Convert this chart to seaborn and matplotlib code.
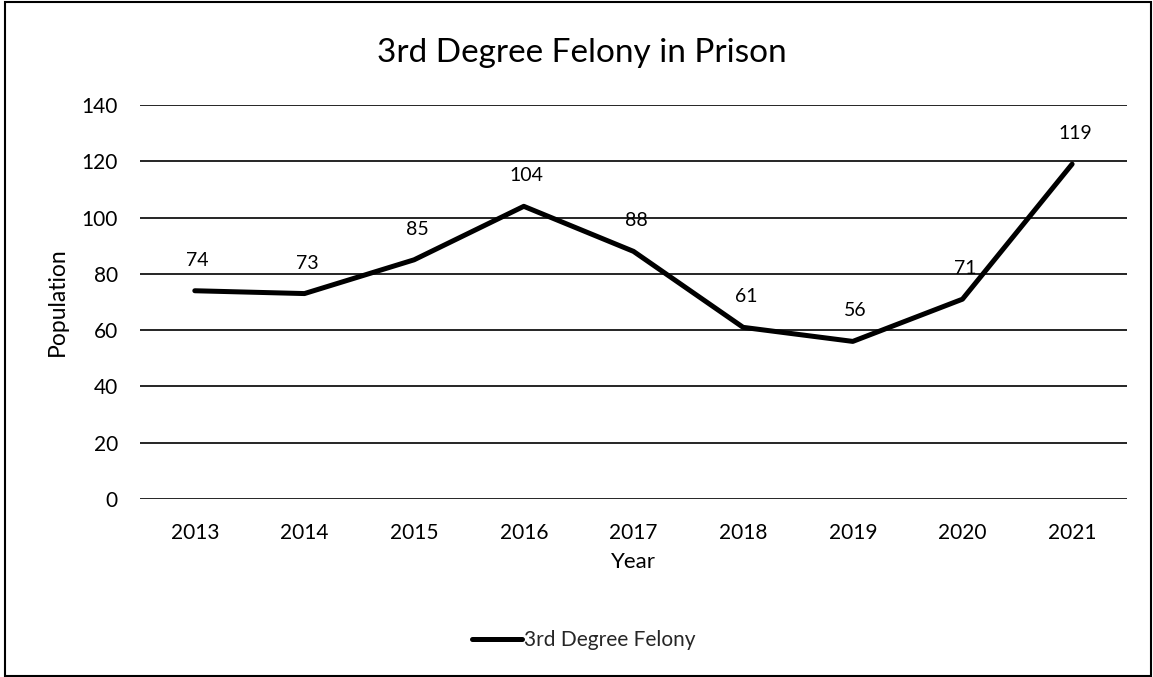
import matplotlib
matplotlib.use("Agg")
import matplotlib.pyplot as plt
from matplotlib.patches import Rectangle
import seaborn as sns
import pandas as pd

years = ["2013", "2014", "2015", "2016", "2017", "2018", "2019", "2020", "2021"]
population = [74, 73, 85, 104, 88, 61, 56, 71, 119]
series_name = "3rd Degree Felony"

df = pd.DataFrame({"Year": years, "Population": population})
df["pos"] = range(len(years))

sns.set_theme(style="white")
plt.rcParams["font.family"] = ["Lato", "DejaVu Sans"]

fig = plt.figure(figsize=(11.53, 6.77), dpi=100)
ax = fig.add_axes([0.1214, 0.2629, 0.856, 0.582])

sns.lineplot(data=df, x="pos", y="Population", color="black", linewidth=3.6,
             label=series_name, ax=ax, solid_capstyle="round")

# data labels above each point
for x, y in zip(df["pos"], df["Population"]):
    ax.annotate(str(y), (x, y), xytext=(2, 22), textcoords="offset points",
                ha="center", va="center", fontsize=14, color="black")

ax.set_xlim(-0.5, len(years) - 0.5)
ax.set_ylim(0, 140)
ax.set_yticks(range(0, 141, 20))
ax.set_xticks(df["pos"])
ax.set_xticklabels(years)
ax.yaxis.grid(True, color="black", linewidth=1.2)
ax.set_axisbelow(True)
for s in ax.spines.values():
    s.set_visible(False)
ax.tick_params(axis="both", length=0, labelsize=15, colors="black")
ax.tick_params(axis="x", pad=17)
ax.tick_params(axis="y", pad=16)

ax.set_xlabel("Year", fontsize=16, color="black", labelpad=7)
ax.set_ylabel("Population", fontsize=16.5, color="black", labelpad=10)
fig.text(582 / 1153, 1 - 53 / 677, "3rd Degree Felony in Prison", fontsize=24,
         color="black", ha="center", va="center")

ax.legend(loc="center", bbox_to_anchor=(0.45, -0.358), frameon=False,
          fontsize=15, handlelength=2.4, handletextpad=0.1)

fig.patches.append(Rectangle((0.004, 0.002), 0.994, 0.995, transform=fig.transFigure,
                             fill=False, edgecolor="black", linewidth=1.5))

fig.savefig("out.png", dpi=100, facecolor="white")
